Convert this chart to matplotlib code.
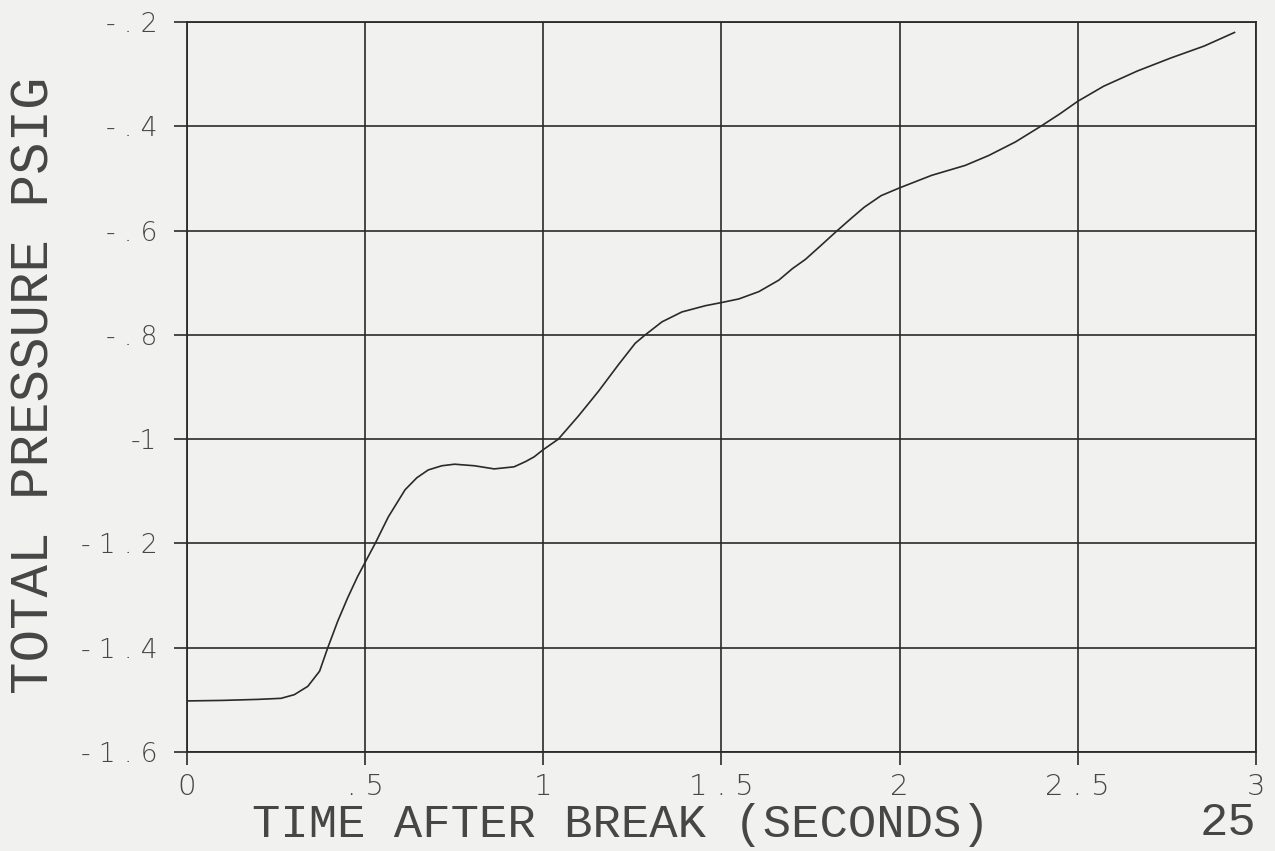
import matplotlib.pyplot as plt

# 時間 (s) と全圧 (psig) -- 図から読み取り
time_s = [0.0, 0.1, 0.2, 0.264, 0.301, 0.339, 0.372, 0.395, 0.423, 0.451, 0.479,
          0.5, 0.528, 0.565, 0.612, 0.645, 0.677, 0.715, 0.751, 0.807, 0.862,
          0.918, 0.95, 0.974, 1.0, 1.042, 1.098, 1.155, 1.211, 1.258, 1.286,
          1.333, 1.389, 1.455, 1.5, 1.549, 1.605, 1.661, 1.699, 1.736, 1.78,
          1.825, 1.865, 1.901, 1.948, 2.0, 2.09, 2.184, 2.25, 2.325, 2.396,
          2.45, 2.5, 2.573, 2.667, 2.761, 2.855, 2.94]
pressure = [-1.502, -1.501, -1.499, -1.497, -1.490, -1.474, -1.445, -1.40, -1.349,
            -1.304, -1.263, -1.236, -1.2, -1.149, -1.097, -1.074, -1.059, -1.051,
            -1.048, -1.051, -1.057, -1.053, -1.043, -1.034, -1.02, -1.0, -0.956,
            -0.908, -0.857, -0.816, -0.8, -0.775, -0.756, -0.744, -0.738, -0.731,
            -0.717, -0.695, -0.673, -0.655, -0.628, -0.6, -0.576, -0.555, -0.533,
            -0.518, -0.494, -0.475, -0.456, -0.430, -0.4, -0.376, -0.352, -0.323,
            -0.294, -0.269, -0.246, -0.22]

xticks = [0, 0.5, 1, 1.5, 2, 2.5, 3]
xlabels = ['0', '. 5', '1', '1 . 5', '2', '2 . 5', '3']
yticks = [-0.2, -0.4, -0.6, -0.8, -1.0, -1.2, -1.4, -1.6]
ylabels = ['- . 2', '- . 4', '- . 6', '- . 8', '-1', '- 1 . 2', '- 1 . 4', '- 1 . 6']

paper = '#f1f1f0'
ink = '#2a2a2a'
txt = '#464646'
mono = ['Liberation Mono', 'DejaVu Sans Mono']

fig = plt.figure(figsize=(12.75, 8.51), dpi=100, facecolor=paper)
ax = fig.add_axes([0.1467, 0.1163, 0.8383, 0.8578], facecolor=paper)

ax.plot(time_s, pressure, color=ink, lw=1.2)

ax.set_xlim(0, 3)
ax.set_ylim(-1.6, -0.2)
ax.set_xticks(xticks)
ax.set_xticklabels(xlabels, family='DejaVu Sans', fontweight='light', fontsize=21, color=txt)
ax.set_yticks(yticks)
ax.set_yticklabels(ylabels, family='DejaVu Sans', fontweight='light', fontsize=19, color=txt)
ax.tick_params(direction='out', length=9.4, width=1.2, color=ink)
ax.tick_params(axis='x', pad=6)
ax.tick_params(axis='y', pad=12)
ax.grid(True, color=ink, lw=1.2)
for s in ax.spines.values():
    s.set_color(ink)
    s.set_linewidth(1.3)

fig.text(0.027, 0.5476, 'TOTAL PRESSURE PSIG', rotation=90,
         ha='center', va='center', family=mono, fontsize=39, color=txt)
fig.text(0.487, 0.0306, 'TIME AFTER BREAK (SECONDS)',
         ha='center', va='center', family=mono, fontsize=34, color=txt)
fig.text(0.963, 0.033, '25', ha='center', va='center', family=mono,
         fontsize=34, color=txt)

fig.savefig('out.png', dpi=100, facecolor=paper)
